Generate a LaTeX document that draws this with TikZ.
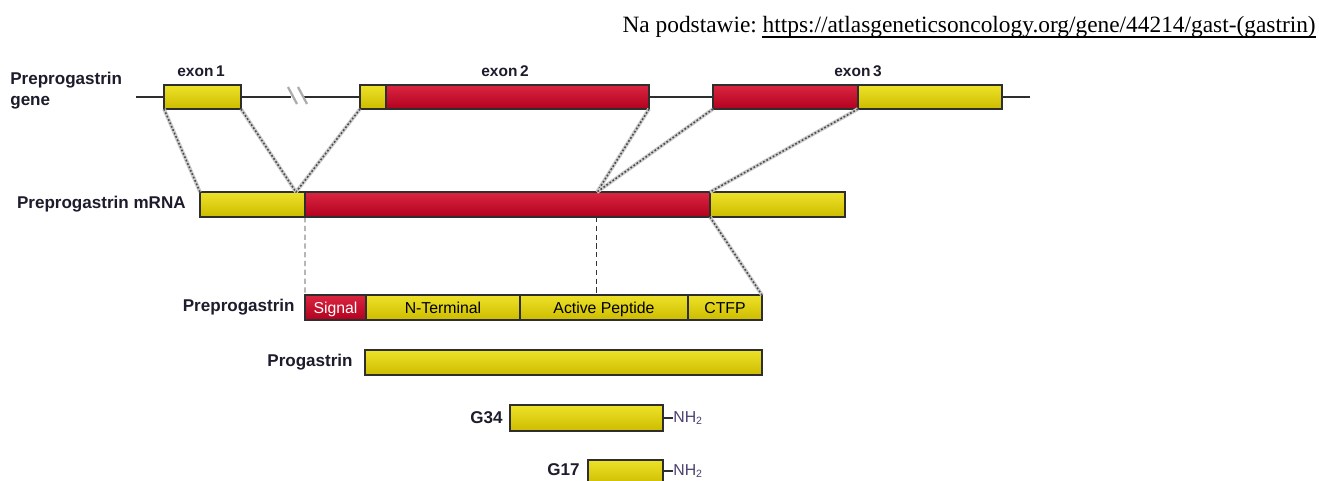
\documentclass[tikz,border=0pt]{standalone}
\usepackage{fontspec}
\setmainfont{Liberation Sans}
\newfontfamily\notefont{Liberation Serif}
\usetikzlibrary{positioning,calc}
\definecolor{YelTop}{HTML}{EDE228}
\definecolor{YelMid}{HTML}{E8DC1F}
\definecolor{YelBot}{HTML}{CDBC00}
\definecolor{RedTop}{HTML}{DA2640}
\definecolor{RedMid}{HTML}{D31F37}
\definecolor{RedBot}{HTML}{B2001F}
\definecolor{BoxEdge}{HTML}{2E2E2E}
\definecolor{LabInk}{HTML}{1C1C2C}
\definecolor{AmideInk}{HTML}{4A3F70}

\begin{document}
\begin{tikzpicture}[
  seg/.style={draw=BoxEdge, line width=0.8pt, inner sep=0pt, outer sep=0pt,
              minimum height=0.5cm, text height=1.6ex, text depth=0.35ex,
              font=\fontsize{9}{11}\selectfont},
  yel/.style={seg, top color=YelTop, middle color=YelMid, bottom color=YelBot},
  red/.style={seg, top color=RedTop, middle color=RedMid, bottom color=RedBot, text=white},
  lab/.style={font=\fontsize{9.7}{12}\selectfont\bfseries, text=LabInk, inner sep=0pt},
  exlab/.style={font=\fontsize{8.8}{10}\selectfont\bfseries, text=LabInk, inner sep=0pt},
  splice/.style={draw=gray!40, line width=2.1pt,
                 postaction={draw=gray!60!black, line width=0.9pt, dash pattern=on 1pt off 1.1pt}},
  cut/.style={draw=gray!40!black, line width=0.5pt, dash pattern=on 3pt off 2pt}
]
  \useasboundingbox (0,0) rectangle (26.38,9.6);

  % source note
  \node[anchor=base east, inner sep=0pt, font=\notefont\fontsize{13.3}{15}\selectfont]
    (url) at (26.32,8.96) {https://atlasgeneticsoncology.org/gene/44214/gast-(gastrin)};
  \node[anchor=base east, inner sep=0pt, font=\notefont\fontsize{13.3}{15}\selectfont]
    (src) at ([xshift=-0.1cm]url.base west) {Na podstawie:};
  \draw[line width=0.7pt] ([yshift=-0.1cm]url.base west) -- ([yshift=-0.1cm]url.base east);

  % gene with its three exons
  \coordinate (gl) at (2.72,7.66);
  \coordinate (bl) at (5.82,7.66);
  \coordinate (br) at (6.08,7.66);
  \coordinate (gr) at (20.60,7.66);
  \draw[line width=0.7pt, BoxEdge] (gl) -- (bl);
  \draw[line width=0.7pt, BoxEdge] (br) -- (gr);
  \draw[line width=1.3pt, gray!65] (5.76,7.86) -- (5.94,7.52);
  \draw[line width=1.3pt, gray!65] (5.96,7.86) -- (6.14,7.52);

  \node[yel, minimum width=1.54cm, minimum height=0.48cm] (e1) at (4.05,7.66) {};
  \node[yel, minimum width=0.52cm, minimum height=0.48cm, anchor=west] (e2y) at (7.20,7.66) {};
  \node[red, minimum width=5.26cm, minimum height=0.48cm, right=0pt of e2y] (e2r) {};
  \node[red, minimum width=2.90cm, minimum height=0.48cm, anchor=west] (e3r) at (14.26,7.66) {};
  \node[yel, minimum width=2.88cm, minimum height=0.48cm, right=0pt of e3r] (e3y) {};

  \node[exlab] (x1) at (4.02,8.18) {exon\,1};
  \node[exlab] (x2) at (10.10,8.18) {exon\,2};
  \node[exlab] (x3) at (17.16,8.18) {exon\,3};
  \node[lab, anchor=west, align=left] (glab) at (0.2,7.79) {Preprogastrin\\gene};

  % mRNA
  \node[yel, minimum width=2.10cm, anchor=west] (m1) at (4.00,5.51) {};
  \node[red, minimum width=8.10cm, right=0pt of m1] (m2) {};
  \node[yel, minimum width=2.70cm, right=0pt of m2] (m3) {};
  \node[lab, left=0.28cm of m1] (mlab) {Preprogastrin\ mRNA};

  \coordinate (sj1) at (5.92,5.76);
  \coordinate (sj2) at (11.94,5.76);
  \draw[splice] (e1.south west) -- (m1.north west);
  \draw[splice] (e1.south east) -- (sj1);
  \draw[splice] (e2y.south west) -- (sj1);
  \draw[splice] (e2r.south east) -- (sj2);
  \draw[splice] (e3r.south west) -- (sj2);
  \draw[splice] (e3r.south east) -- (m3.north west);

  % preprogastrin and what is cut from it
  \node[red, minimum width=1.22cm, anchor=west] (sig) at (6.10,3.45) {Signal};
  \node[yel, minimum width=3.08cm, right=0pt of sig] (nterm) {N-Terminal};
  \node[yel, minimum width=3.36cm, right=0pt of nterm] (act) {Active Peptide};
  \node[yel, minimum width=1.48cm, right=0pt of act] (ctfp) {CTFP};
  \node[lab, left=0.2cm of sig] (plab) {Preprogastrin};

  \coordinate (ap) at (11.92,5.26);
  \draw[cut] (m2.south west) -- (sig.north west);
  \draw[cut] (ap) -- (ap |- act.north);
  \draw[splice] (m2.south east) -- (ctfp.north east);

  \node[yel, minimum width=7.94cm, anchor=west] (prog) at (7.30,2.35) {};
  \node[lab, left=0.24cm of prog] (proglab) {Progastrin};

  \node[yel, minimum width=3.06cm, minimum height=0.52cm, anchor=west] (g34) at (10.20,1.24) {};
  \node[lab, left=0.14cm of g34] (g34lab) {G34};
  \node[anchor=west, inner sep=0pt, text=AmideInk, font=\fontsize{9}{11}\selectfont]
    (nh34) at ([xshift=0.2cm]g34.east) {NH\textsubscript{2}};
  \draw[line width=0.6pt, BoxEdge] (g34.east) -- (nh34.west);

  \node[yel, minimum width=1.50cm, anchor=west] (g17) at (11.76,0.15) {};
  \node[lab, anchor=east] (g17lab) at (11.60,0.20) {G17};
  \node[anchor=west, inner sep=0pt, text=AmideInk, font=\fontsize{9}{11}\selectfont]
    (nh17) at ([xshift=0.2cm, yshift=0.03cm]g17.east) {NH\textsubscript{2}};
  \draw[line width=0.6pt, BoxEdge] (g17.east |- nh17.west) -- (nh17.west);
\end{tikzpicture}
\end{document}
